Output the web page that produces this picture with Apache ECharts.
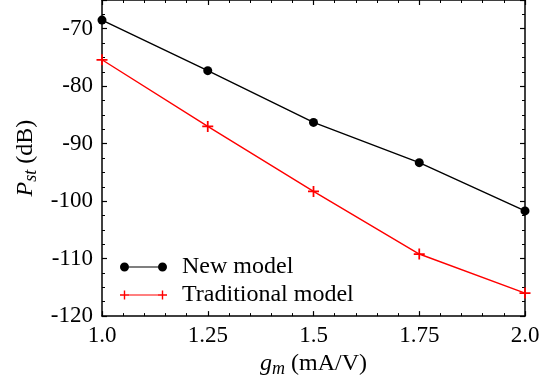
<!DOCTYPE html>
<html>
<head>
<meta charset="utf-8">
<script src="https://cdn.jsdelivr.net/npm/echarts@6/dist/echarts.min.js"></script>
<style>
  html, body { margin: 0; padding: 0; background: #fff; }
  #main { width: 552px; height: 383px; }
</style>
</head>
<body>
<div id="main"></div>
<script>
var gm = [1.0, 1.25, 1.5, 1.75, 2.0];
var newModel = [-68.5, -77.3, -86.3, -93.3, -101.7];
var traditionalModel = [-75.4, -87.0, -98.3, -109.2, -116.0];
var seriesNames = ['New model', 'Traditional model'];

var font = 'Liberation Serif';

// plus marker (filled cross) and legend icons with markers at both ends
var plusPath = 'path://M4.2,0 H5.8 V4.2 H10 V5.8 H5.8 V10 H4.2 V5.8 H0 V4.2 H4.2 Z';
var iconNew = 'path://M0,4.5 a4.5,4.5 0 1,0 9,0 a4.5,4.5 0 1,0 -9,0 Z ' +
  'M38,4.5 a4.5,4.5 0 1,0 9,0 a4.5,4.5 0 1,0 -9,0 Z M9,3.9 H38 V5.1 H9 Z';
var iconTrad = 'path://M3.8,0 H5.2 V3.8 H9 V5.2 H5.2 V9 H3.8 V5.2 H0 V3.8 H3.8 Z ' +
  'M41.8,0 H43.2 V3.8 H47 V5.2 H43.2 V9 H41.8 V5.2 H38 V3.8 H41.8 Z M9,3.9 H38 V5.1 H9 Z';

function pairs(xs, ys) {
  return xs.map(function (x, i) { return [x, ys[i]]; });
}

var axisLine = { show: true, onZero: false, lineStyle: { color: '#000', width: 1.5 } };
var tick = { show: true, inside: true, length: 5, lineStyle: { color: '#000', width: 1.2 } };
var minor = { show: true, splitNumber: 5, length: 3, lineStyle: { color: '#000', width: 1 } };
var minorY = { show: true, splitNumber: 4, length: 3, lineStyle: { color: '#000', width: 1 } };

var nameRich = {
  i: { fontFamily: font, fontSize: 24, fontStyle: 'italic', color: '#000', lineHeight: 28 },
  s: { fontFamily: font, fontSize: 18, fontStyle: 'italic', color: '#000', verticalAlign: 'bottom', lineHeight: 28 }
};

function xFmt(v) {
  if (v === 1) return '1.0';
  if (v === 2) return '2.0';
  return String(v);
}

var chart = echarts.init(document.getElementById('main'));
chart.setOption({
  backgroundColor: '#fff',
  animation: false,
  grid: { left: 102, right: 27, top: -1, bottom: 63 },
  legend: {
    left: 115,
    top: 250,
    orient: 'vertical',
    itemWidth: 47,
    itemHeight: 9,
    itemGap: 4,
    textStyle: { fontFamily: font, fontSize: 24, color: '#000', padding: [0, 0, 0, 10] },
    data: [
      { name: seriesNames[0], icon: iconNew },
      { name: seriesNames[1], icon: iconTrad }
    ]
  },
  xAxis: [{
    type: 'value',
    position: 'bottom',
    min: 1, max: 2, interval: 0.25,
    name: '{i|g}{s|m} (mA/V)',
    nameLocation: 'middle',
    nameGap: 32,
    nameTextStyle: { fontFamily: font, fontSize: 24, color: '#000', rich: nameRich },
    axisLine: axisLine,
    axisTick: tick,
    minorTick: minor,
    splitLine: { show: false },
    axisLabel: { margin: 8, fontFamily: font, fontSize: 23, color: '#000', formatter: xFmt }
  }, {
    type: 'value',
    position: 'top',
    min: 1, max: 2, interval: 0.25,
    axisLine: axisLine,
    axisTick: tick,
    minorTick: minor,
    splitLine: { show: false },
    axisLabel: { show: false }
  }],
  yAxis: [{
    type: 'value',
    position: 'left',
    min: -120, max: -65, interval: 10,
    name: '{i|P}{s|st} (dB)',
    nameLocation: 'middle',
    nameRotate: 90,
    nameGap: 62,
    nameTextStyle: { fontFamily: font, fontSize: 24, color: '#000', rich: nameRich },
    axisLine: axisLine,
    axisTick: tick,
    minorTick: minorY,
    splitLine: { show: false },
    axisLabel: { margin: 9, fontFamily: font, fontSize: 23, color: '#000', showMaxLabel: false }
  }, {
    type: 'value',
    position: 'right',
    min: -120, max: -65, interval: 10,
    axisLine: axisLine,
    axisTick: tick,
    minorTick: minorY,
    splitLine: { show: false },
    axisLabel: { show: false }
  }],
  series: [{
    name: seriesNames[0],
    type: 'line',
    data: pairs(gm, newModel),
    symbol: 'circle',
    symbolSize: 9,
    itemStyle: { color: '#000' },
    lineStyle: { color: '#000', width: 1.4 },
    z: 3
  }, {
    name: seriesNames[1],
    type: 'line',
    data: pairs(gm, traditionalModel),
    symbol: plusPath,
    symbolSize: 11,
    itemStyle: { color: '#ff0000' },
    lineStyle: { color: '#ff0000', width: 1.4 },
    z: 2
  }]
});
</script>
</body>
</html>
